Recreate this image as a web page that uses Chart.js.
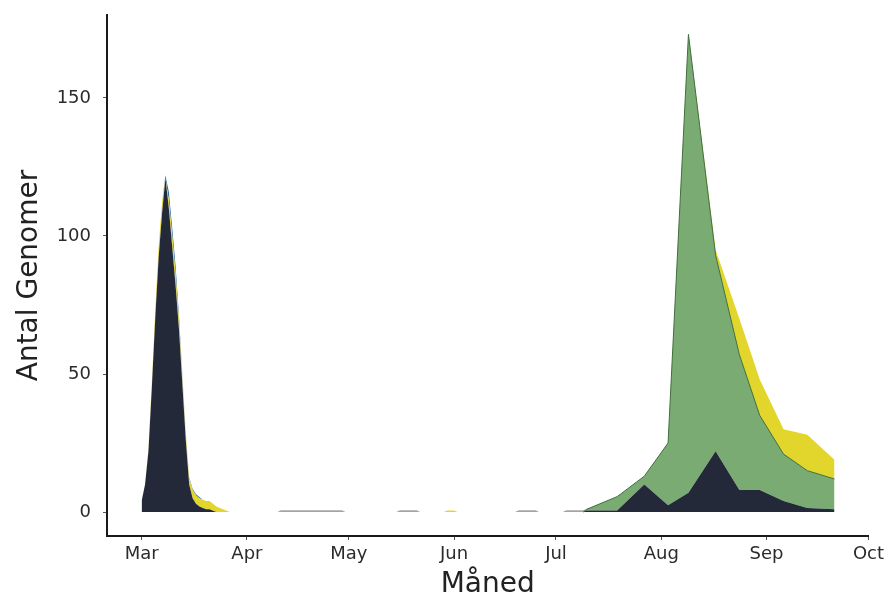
<!DOCTYPE html>
<html>
<head>
<meta charset="utf-8">
<script src="https://cdn.jsdelivr.net/npm/chart.js@4.4.1/dist/chart.umd.min.js"></script>
<style>
  html, body { margin: 0; padding: 0; background: #fff; }
  #wrap { width: 888px; height: 602px; }
</style>
</head>
<body>
<div id="wrap"><canvas id="genomer"></canvas></div>
<script>
// dage regnet fra 1. marts
var dage = [0,1,2,3,4,5,6,7,8,9,10,11,12,13,14,15,16,17,18,19,20,21,22,23,24,25,26,
            40,41,59,60,75,76,81,82,89,90,92,93,110,111,116,117,124,125,130,
            131,140,148,155,161,169,176,182,189,196,204];

var moerk = [4,10,22,45,70,92,108,121,110,96,82,66,46,26,10,5,3,2,1.5,1,1,0.5,0,0,0,0,0,
             0,0,0,0,0,0,0,0,0,0,0,0,0,0,0,0,0,0,0,
             0.6,0.6,10,2.5,7,22,8,8,4,1.5,1];

var groen = [0,0,0,0,0,0,0,0,0,0,0,0,0,0,0,0,0,0,0,0,0,0,0,0,0,0,0,
             0,0,0,0,0,0,0,0,0,0,0,0,0,0,0,0,0,0,0,
             0.4,5,3,22.5,166,71,49,27,17,13.5,11];

var gul = [0,0,1,2,3,4,4,0,3,4,4,3,2,2,2,3,3,3,3,3,3,2.5,2,1.5,1,0.5,0,
           0,0,0,0,0,0,0,0,0,0.6,0.6,0,0,0,0,0,0,0,0,
           0,0,0,0,0,2,13,13,9,13,7];

var blaa = [0,0,0,0,0,0,0,1,3,3,3,2,1,0.5,0.5,0.5,0.5,0.5,0,0,0,0,0,0,0,0,0,
            0,0,0,0,0,0,0,0,0,0,0,0,0,0,0,0,0,0,0,
            0,0,0,0,0,0,0,0,0,0,0];

var graa = [0,0,0,0,0,0,0,0,0,0,0,0,0,0,0,0,0,0,0,0,0,0,0,0,0,0,0,
            0,0.7,0.7,0,0,0.7,0.7,0,0,0,0,0,0,0.7,0.7,0,0,0.7,0.7,
            0,0,0,0,0,0,0,0,0,0,0];

var maanedDage = [0,31,61,92,122,153,184,214];
var maanedNavne = ['Mar','Apr','May','Jun','Jul','Aug','Sep','Oct'];
var yTicks = [0,50,100,150];

function punkter(serie) {
  return dage.map(function (d, i) { return { x: d, y: serie[i] }; });
}

function lag(label, serie, farve, fyld, kant) {
  return {
    label: label,
    data: punkter(serie),
    backgroundColor: farve,
    borderColor: kant || farve,
    borderWidth: kant ? 1 : 0,
    fill: fyld,
    pointRadius: 0,
    tension: 0,
    segment: kant ? {
      borderColor: function (c) {
        return (serie[c.p0DataIndex] === 0 && serie[c.p1DataIndex] === 0) ? 'rgba(0,0,0,0)' : kant;
      }
    } : undefined
  };
}

var ctx = document.getElementById('genomer').getContext('2d');
var chart = new Chart(ctx, {
  type: 'line',
  data: {
    datasets: [
      lag('moerk', moerk, '#232939', 'origin'),
      lag('groen', groen, '#7aab72', '-1', '#3f6f3b'),
      lag('gul', gul, '#e2d52b', '-1'),
      lag('blaa', blaa, '#2a6fa6', '-1'),
      lag('graa', graa, '#a5a5a5', '-1')
    ]
  },
  options: {
    responsive: true,
    maintainAspectRatio: false,
    animation: false,
    layout: { padding: { top: 15, right: 18, left: 0, bottom: 0 } },
    plugins: { legend: { display: false }, tooltip: { enabled: false } },
    scales: {
      x: {
        type: 'linear',
        min: -10.2,
        max: 214,
        afterBuildTicks: function (s) { s.ticks = maanedDage.map(function (v) { return { value: v }; }); },
        afterFit: function (s) { s.height = 66; },
        ticks: {
          autoSkip: false,
          maxRotation: 0,
          padding: 4,
          color: '#2b2b2b',
          font: { family: 'DejaVu Sans', size: 18 },
          callback: function (v) { return maanedNavne[maanedDage.indexOf(v)]; }
        },
        grid: { drawOnChartArea: false, drawTicks: true, tickLength: 4, color: '#555' },
        border: { display: true, color: '#1a1a1a', width: 2 },
        title: {
          display: true,
          text: 'Måned',
          color: '#222',
          font: { family: 'DejaVu Sans', size: 28 },
          padding: { top: 0, bottom: 0 }
        }
      },
      y: {
        stacked: true,
        min: -8.65,
        max: 180,
        afterBuildTicks: function (s) { s.ticks = yTicks.map(function (v) { return { value: v }; }); },
        afterFit: function (s) { s.width = 107; s.paddingTop = 0; s.paddingBottom = 0; },
        ticks: {
          padding: 12,
          color: '#2b2b2b',
          font: { family: 'DejaVu Sans', size: 18 }
        },
        grid: { drawOnChartArea: false, drawTicks: true, tickLength: 4, color: '#555' },
        border: { display: true, color: '#1a1a1a', width: 2 },
        title: {
          display: true,
          text: 'Antal Genomer',
          color: '#222',
          font: { family: 'DejaVu Sans', size: 28 },
          padding: { top: 13, bottom: 0 }
        }
      }
    }
  }
});
</script>
</body>
</html>
